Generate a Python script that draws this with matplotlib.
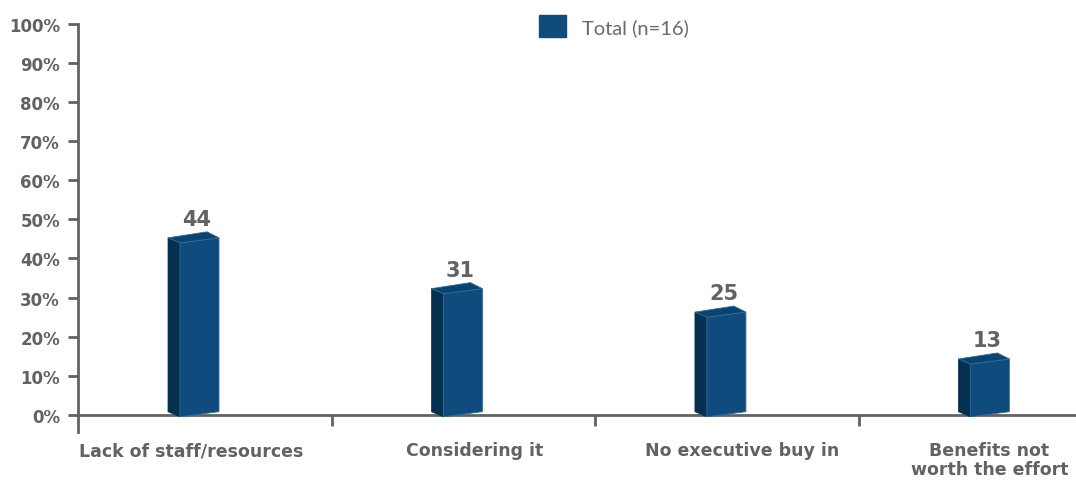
import matplotlib
matplotlib.use("Agg")
import matplotlib.pyplot as plt
import numpy as np
from matplotlib.patches import Polygon, Patch

# data
categories = ["Lack of staff/resources", "Considering it",
              "No executive buy in", "Benefits not\nworth the effort"]
values = [44, 31, 25, 13]
yticks = [0, 10, 20, 30, 40, 50, 60, 70, 80, 90, 100]
series_name = "Total (n=16)"

GREY = "#626262"
FRONT = "#0f4c7d"
SIDE = "#06304f"
TOP = "#0b436f"
EDGE = "#2d6a9c"

# horizontal nudges (px) of the category labels, as in the original layout
label_nudge = [-9, 11, 15, -1]

plt.rcParams['font.family'] = ['DejaVu Sans']

fig = plt.figure(figsize=(10.76, 4.81), dpi=100)
ax = fig.add_axes([78 / 1076, 48 / 481, 998 / 1076, 408 / 481])

ax.set_xlim(-0.463, 3.325)
ax.set_ylim(-4.4, 100)

# pixel sizes in data units
px = 1 / 263.5
py = 1 / 3.9

for i, v in enumerate(values):
    xl = i - 20 * px
    xr = i + 19 * px
    dx, dy = -12 * px, 5 * py
    front = [(xl, -0.5), (xr, 0.8), (xr, v + 5 * py), (xl, v)]
    side = [(xl + dx, -0.5 + dy), (xl, -0.5), (xl, v), (xl + dx, v + dy)]
    top = [(xl, v), (xr, v + 5 * py), (xr + dx, v + 5 * py + 6 * py), (xl + dx, v + dy)]
    ax.add_patch(Polygon(side, closed=True, facecolor=SIDE, edgecolor=SIDE, lw=0.5, zorder=3))
    ax.add_patch(Polygon(front, closed=True, facecolor=FRONT, edgecolor=EDGE, lw=0.6, zorder=3))
    ax.add_patch(Polygon(top, closed=True, facecolor=TOP, edgecolor=EDGE, lw=0.6, zorder=3))
    ax.text(i - 3 * px, v + 4.6, str(v), ha="center", va="baseline",
            fontsize=15, fontweight="heavy", color=GREY, zorder=4)
    ax.text(i + label_nudge[i] * px, -6.8, categories[i], ha="center", va="top",
            fontsize=12.5, fontweight="heavy", color=GREY, linespacing=1.05)

# axes styling
for s in ["top", "right"]:
    ax.spines[s].set_visible(False)
ax.spines["bottom"].set_position(("data", 0))
ax.spines["left"].set_color(GREY)
ax.spines["bottom"].set_color(GREY)
ax.spines["left"].set_linewidth(2)
ax.spines["bottom"].set_linewidth(2)
ax.spines["left"].set_zorder(2)
ax.spines["bottom"].set_zorder(2)

ax.set_yticks(yticks)
ax.set_yticklabels([f"{t}%" for t in yticks])
ax.tick_params(axis="y", direction="out", length=7, width=2, color=GREY,
               labelsize=12, labelcolor=GREY, pad=6)
for lab in ax.get_yticklabels():
    lab.set_fontweight("heavy")

ax.set_xticks([0.5, 1.5, 2.5])
ax.set_xticklabels([])
ax.tick_params(axis="x", direction="out", length=8, width=2, color=GREY)

handles = [Patch(facecolor=FRONT, edgecolor=FRONT, label=series_name)]
leg = fig.legend(handles=handles, loc="center left", bbox_to_anchor=(521 / 1076, 1 - 27 / 481),
                 frameon=False, handlelength=1.35, handleheight=1.35, handletextpad=0.8,
                 prop={"family": "Lato", "weight": "normal", "size": 14.5})
for t in leg.get_texts():
    t.set_color("#6a6a6a")

fig.savefig("out.png", dpi=100)
